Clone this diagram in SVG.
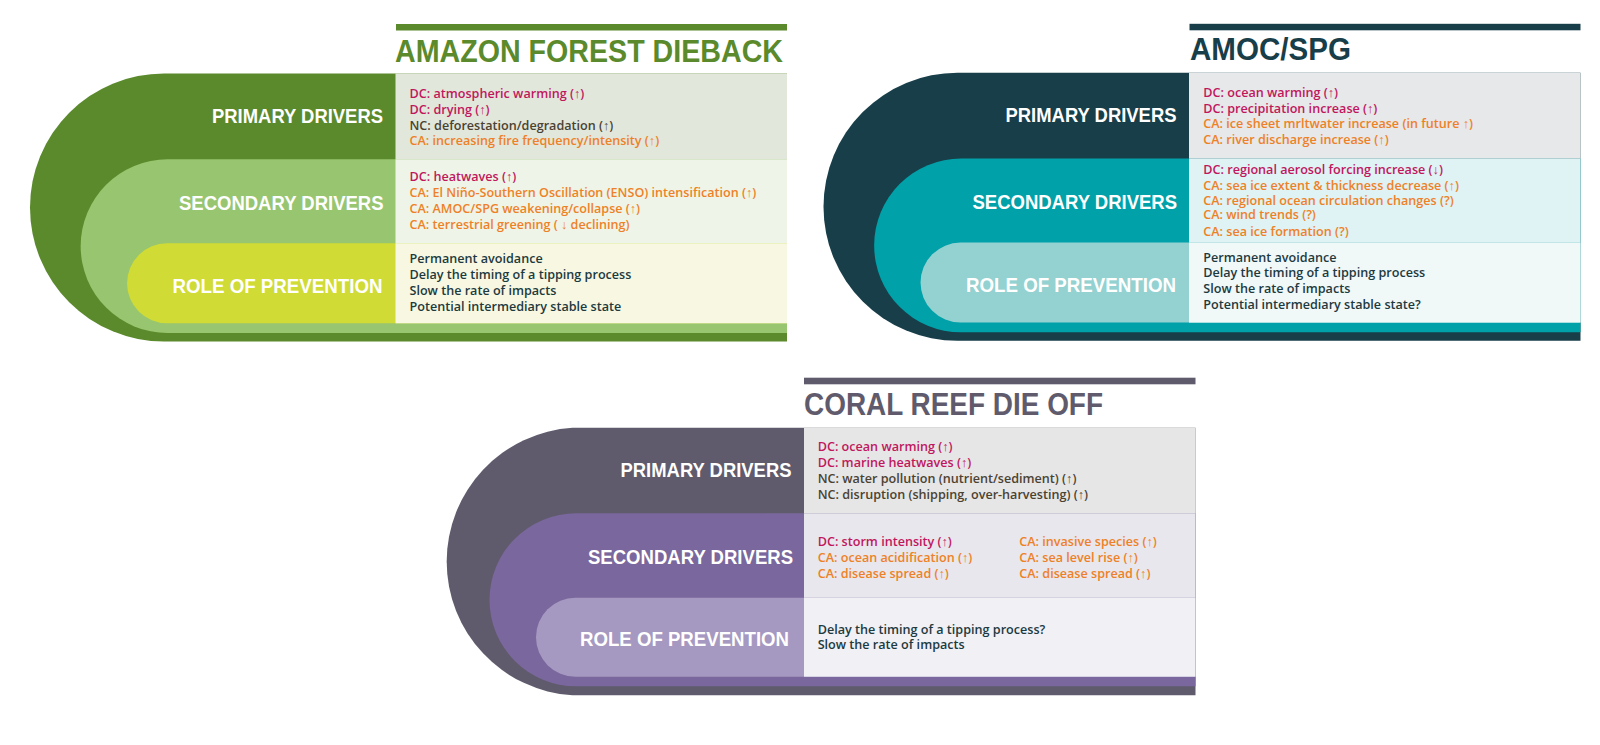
<svg xmlns="http://www.w3.org/2000/svg" width="1600" height="745" viewBox="0 0 1600 745">
<style>
.lbl{font-family:"Liberation Sans",Arial,sans-serif;font-weight:700;font-size:20px;fill:#ffffff}
.ttl{font-family:"Liberation Sans",Arial,sans-serif;font-weight:700;font-size:32px}
.t{font-family:"Open Sans","Liberation Sans",sans-serif;font-weight:600;font-size:12.6px}
.dc{fill:#c0175d}.nc{fill:#4b4232}.ca{fill:#ee8127}.rp{fill:#1d3a3f}
</style>
<rect width="1600" height="745" fill="#ffffff"/>
<g id="connectors"/>

<g id="amazon" transform="translate(0,0)">
  <rect x="396" y="24" width="391" height="6.5" fill="#5a8a2b"/>
  <text class="ttl" x="395" y="61.5" fill="#5a8a2b" textLength="388" lengthAdjust="spacingAndGlyphs">AMAZON FOREST DIEBACK</text>
  <g id="amazon-primary">
    <path d="M787 73.5H164A134 134 0 0 0 164 341.5H787Z" fill="#5a8a2b"/>
  </g>
  <g id="amazon-secondary">
    <path d="M787 159.3H167.5A86.85 86.85 0 0 0 167.5 333H787Z" fill="#98c56f"/>
  </g>
  <g id="amazon-prevention">
    <path d="M787 243.3H167A40 40 0 0 0 167 323.3H787Z" fill="#d0db35"/>
  </g>
  <rect x="395.5" y="73.5" width="391.5" height="85.8" fill="#e2e7dc"/>
  <rect x="395.5" y="159.3" width="391.5" height="84" fill="#eef5e8"/>
  <rect x="395.5" y="243.3" width="391.5" height="80" fill="#f8f8e2"/>
  <text class="lbl" x="212" y="122.5" textLength="171" lengthAdjust="spacingAndGlyphs">PRIMARY DRIVERS</text>
  <text class="lbl" x="179" y="209.5" textLength="204.5" lengthAdjust="spacingAndGlyphs">SECONDARY DRIVERS</text>
  <text class="lbl" x="172.5" y="292.5" textLength="210" lengthAdjust="spacingAndGlyphs">ROLE OF PREVENTION</text>
  <text class="t dc" x="409.5" y="97.5">DC: atmospheric warming (↑)</text>
  <text class="t dc" x="409.5" y="113.5">DC: drying (↑)</text>
  <text class="t nc" x="409.5" y="129.5">NC: deforestation/degradation (↑)</text>
  <text class="t ca" x="409.5" y="145">CA: increasing fire frequency/intensity (↑)</text>
  <text class="t dc" x="409.5" y="181">DC: heatwaves (↑)</text>
  <text class="t ca" x="409.5" y="197">CA: El Niño-Southern Oscillation (ENSO) intensification (↑)</text>
  <text class="t ca" x="409.5" y="213">CA: AMOC/SPG weakening/collapse (↑)</text>
  <text class="t ca" x="409.5" y="229">CA: terrestrial greening ( ↓ declining)</text>
  <text class="t rp" x="409.5" y="263">Permanent avoidance</text>
  <text class="t rp" x="409.5" y="279.3">Delay the timing of a tipping process</text>
  <text class="t rp" x="409.5" y="295">Slow the rate of impacts</text>
  <text class="t rp" x="409.5" y="311">Potential intermediary stable state</text>
</g>

<g id="amoc" transform="translate(793.5,-0.7)">
  <rect x="396" y="24.5" width="391" height="6.5" fill="#173e49"/>
  <text class="ttl" x="396.5" y="61" fill="#173e49" textLength="161" lengthAdjust="spacingAndGlyphs">AMOC/SPG</text>
  <g id="amoc-primary">
    <path d="M787 73.5H164A134 134 0 0 0 164 341.5H787Z" fill="#173e49"/>
  </g>
  <g id="amoc-secondary">
    <path d="M787 159.3H167.5A86.85 86.85 0 0 0 167.5 333H787Z" fill="#00a1a9"/>
  </g>
  <g id="amoc-prevention">
    <path d="M787 243.3H167A40 40 0 0 0 167 323.3H787Z" fill="#94d1d1"/>
  </g>
  <rect x="395.5" y="73.5" width="391.5" height="85.8" fill="#e6e8e9"/>
  <rect x="395.5" y="159.3" width="391.5" height="84" fill="#dff2f4"/>
  <rect x="395.5" y="243.3" width="391.5" height="80" fill="#f1f8f8"/>
  <text class="lbl" x="212" y="122.5" textLength="171" lengthAdjust="spacingAndGlyphs">PRIMARY DRIVERS</text>
  <text class="lbl" x="179" y="209.5" textLength="204.5" lengthAdjust="spacingAndGlyphs">SECONDARY DRIVERS</text>
  <text class="lbl" x="172.5" y="292.5" textLength="210" lengthAdjust="spacingAndGlyphs">ROLE OF PREVENTION</text>
  <text class="t dc" x="409.8" y="97.4">DC: ocean warming (↑)</text>
  <text class="t dc" x="409.8" y="113.4">DC: precipitation increase (↑)</text>
  <text class="t ca" x="409.8" y="129">CA: ice sheet mrltwater increase (in future ↑)</text>
  <text class="t ca" x="409.8" y="144.7">CA: river discharge increase (↑)</text>
  <text class="t dc" x="409.8" y="175">DC: regional aerosol forcing increase (↓)</text>
  <text class="t ca" x="409.8" y="191.2">CA: sea ice extent &amp; thickness decrease (↑)</text>
  <text class="t ca" x="409.8" y="205.7">CA: regional ocean circulation changes (?)</text>
  <text class="t ca" x="409.8" y="220">CA: wind trends (?)</text>
  <text class="t ca" x="409.8" y="236.6">CA: sea ice formation (?)</text>
  <text class="t rp" x="409.8" y="262.4">Permanent avoidance</text>
  <text class="t rp" x="409.8" y="278">Delay the timing of a tipping process</text>
  <text class="t rp" x="409.8" y="294">Slow the rate of impacts</text>
  <text class="t rp" x="409.8" y="310">Potential intermediary stable state?</text>
</g>

<g id="coral" transform="translate(408.5,354.3)">
  <rect x="395.5" y="23.4" width="391.5" height="6.6" fill="#5f5b6c"/>
  <text class="ttl" x="395.5" y="60.7" fill="#5f5b6c" textLength="299" lengthAdjust="spacingAndGlyphs">CORAL REEF DIE OFF</text>
  <g id="coral-primary">
    <path d="M787 73.5H164A134 134 0 0 0 164 341H787Z" fill="#5f5b6c"/>
  </g>
  <g id="coral-secondary">
    <path d="M787 159H167.5A86.5 86.5 0 0 0 167.5 332H787Z" fill="#7a679d"/>
  </g>
  <g id="coral-prevention">
    <path d="M787 243.4H167A39.5 39.5 0 0 0 167 322.4H787Z" fill="#a699c1"/>
  </g>
  <rect x="395.5" y="73.5" width="391.5" height="85.5" fill="#e6e6e7"/>
  <rect x="395.5" y="159" width="391.5" height="84.4" fill="#e8e7ed"/>
  <rect x="395.5" y="243.4" width="391.5" height="79" fill="#f1f0f5"/>
  <text class="lbl" x="212" y="122.5" textLength="171" lengthAdjust="spacingAndGlyphs">PRIMARY DRIVERS</text>
  <text class="lbl" x="179.5" y="209.7" textLength="205" lengthAdjust="spacingAndGlyphs">SECONDARY DRIVERS</text>
  <text class="lbl" x="171.5" y="291.5" textLength="209" lengthAdjust="spacingAndGlyphs">ROLE OF PREVENTION</text>
  <text class="t dc" x="409.2" y="96.7">DC: ocean warming (↑)</text>
  <text class="t dc" x="409.2" y="112.4">DC: marine heatwaves (↑)</text>
  <text class="t nc" x="409.2" y="129">NC: water pollution (nutrient/sediment) (↑)</text>
  <text class="t nc" x="409.2" y="144.7">NC: disruption (shipping, over-harvesting) (↑)</text>
  <text class="t dc" x="409.2" y="191.4">DC: storm intensity (↑)</text>
  <text class="t ca" x="409.2" y="208">CA: ocean acidification (↑)</text>
  <text class="t ca" x="409.2" y="224">CA: disease spread (↑)</text>
  <text class="t ca" x="610.8" y="191.4">CA: invasive species (↑)</text>
  <text class="t ca" x="610.8" y="208">CA: sea level rise (↑)</text>
  <text class="t ca" x="610.8" y="224">CA: disease spread (↑)</text>
  <text class="t rp" x="409.2" y="279.7">Delay the timing of a tipping process?</text>
  <text class="t rp" x="409.2" y="295">Slow the rate of impacts</text>
</g>
</svg>
